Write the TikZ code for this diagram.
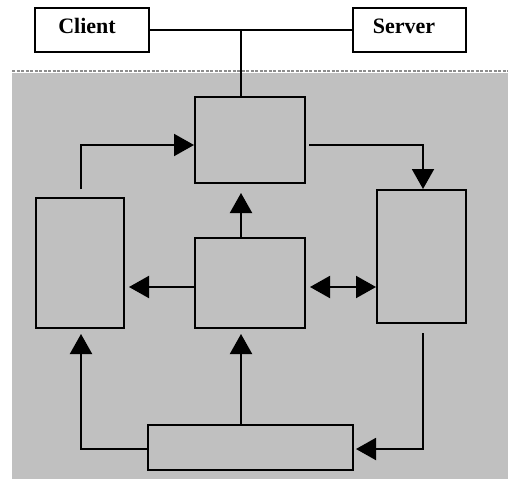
\documentclass[tikz,border=0pt]{standalone}
\usepackage{fontspec}
\setmainfont{Liberation Serif}
\usetikzlibrary{arrows.meta}
\definecolor{bggray}{RGB}{192,192,192}
\begin{document}
\begin{tikzpicture}[x=1pt,y=-1pt,
  box/.style={draw=black,line width=2pt,inner sep=0pt,minimum width=#1},
  lbl/.style={font=\bfseries\fontsize{22}{24}\selectfont,anchor=base,inner sep=0pt},
  conn/.style={line width=2pt},
  arr/.style={line width=2pt,-{Triangle[length=20pt,width=22pt]}},
  darr/.style={line width=2pt,{Triangle[length=20pt,width=22pt]}-{Triangle[length=20pt,width=22pt]}}]
\useasboundingbox (0,0) rectangle (508,479);
\fill[white] (0,0) rectangle (508,479);
\fill[bggray] (12,73) rectangle (508,479);
\draw[gray!90,line width=2pt,dash pattern=on 3pt off 1.5pt] (12,71) -- (508,71);

% top boxes
\node[box=114pt,minimum height=44pt,fill=white] (Cl) at (92,30) {};
\node[box=113pt,minimum height=44pt,fill=white] (Sv) at (409.5,30) {};
\node[lbl] (clt) at (87,33) {Client};
\node[lbl] (svt) at (404,33) {Server};

% main boxes
\node[box=110pt,minimum height=86pt] (T) at (250,140) {};
\node[box=88pt,minimum height=130pt] (L) at (80,263) {};
\node[box=110pt,minimum height=90pt] (C) at (250,283) {};
\node[box=89pt,minimum height=133pt] (R) at (421.5,256.5) {};
\node[box=205pt,minimum height=45pt] (B) at (250.5,447.5) {};

% client-server connection
\draw[conn] (Cl.east) -- (Sv.west);
\coordinate (J) at ([xshift=-9pt]T.north |- Cl.east);
\draw[conn] (J) -- ([xshift=-9pt]T.north);

% arrows
\draw[arr,shorten <=8pt] ([xshift=1pt]L.north) |- ([yshift=-5pt]T.west);
\draw[arr,shorten <=3pt] ([yshift=-5pt]T.east) -| ([xshift=1.5pt]R.north);
\draw[arr,shorten >=9pt] ([xshift=-9pt]C.north) -- ([xshift=-9pt]T.south);
\draw[arr,shorten >=4pt] ([yshift=-4pt]C.west) -- ([yshift=-4pt]C.west -| L.east);
\draw[darr,shorten <=4pt] ([yshift=-4pt]C.east) -- ([yshift=-4pt]C.east -| R.west);
\draw[arr,shorten <=9pt,shorten >=2pt] ([xshift=1.5pt]R.south) |- ([yshift=-1.5pt]B.east);
\draw[arr,shorten >=5pt] ([yshift=-1.5pt]B.west) -| ([xshift=1pt]L.south);
\draw[arr,shorten >=5pt] ([xshift=-9.5pt]B.north) -- ([xshift=-9pt]C.south);
\end{tikzpicture}
\end{document}
